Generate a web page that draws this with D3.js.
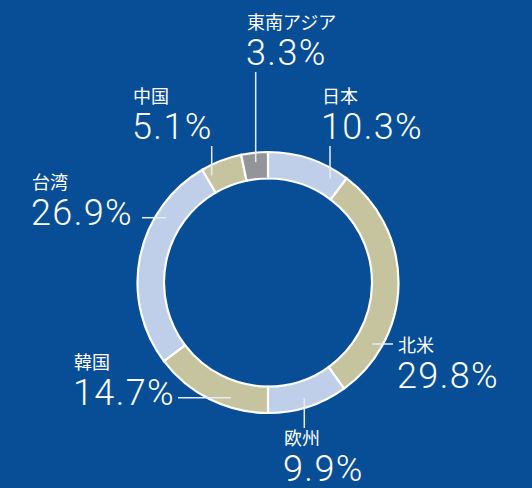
<!DOCTYPE html>
<html>
<head>
<meta charset="utf-8">
<script src="https://cdn.jsdelivr.net/npm/d3@7"></script>
<style>
  html, body { margin: 0; padding: 0; background: #084e97; }
  svg { display: block; }
</style>
</head>
<body>
<svg id="chart" width="532" height="488"></svg>
<script>
// ---- data ----
const categories = ["日本", "北米", "欧州", "韓国", "台湾", "中国", "東南アジア"];
const values = [10.3, 29.8, 9.9, 14.7, 26.9, 5.1, 3.3];
const valueLabels = ["10.3%", "29.8%", "9.9%", "14.7%", "26.9%", "5.1%", "3.3%"];

// ---- styles / layout ----
const segColors = ["#bfcfe9", "#c6c49f", "#bfcfe9", "#c6c49f", "#bfcfe9", "#c6c49f", "#939599"];
const W = 532, H = 488;
const cx = 268, cy = 282.5;
const outerR = 130.5, innerR = 104, leaderR = 121;

// label anchor: text x, value baseline, leader start point & direction
const labelLayout = [
  { tx: 322, ty: 139, lx: 330,   ly: 146,  dir: "v" },  // 日本
  { tx: 398, ty: 388, lx: 393,   ly: 344,  dir: "h" },  // 北米
  { tx: 284, ty: 481, lx: 304.3, ly: 428,  dir: "v" },  // 欧州
  { tx: 74,  ty: 405, lx: 178,   ly: 397.7, dir: "h" }, // 韓国
  { tx: 32,  ty: 225, lx: 142,   ly: 217.7, dir: "h" }, // 台湾
  { tx: 133, ty: 139, lx: 211.7, ly: 146,  dir: "v" },  // 中国
  { tx: 247, ty: 65,  lx: 255.7, ly: 72,   dir: "v" }   // 東南アジア
];

const svg = d3.select("#chart");
svg.append("rect").attr("width", W).attr("height", H).attr("fill", "#084e97");

const pie = d3.pie().sort(null).value(d => d.value);
const arc = d3.arc().innerRadius(innerR).outerRadius(outerR);
const data = categories.map((c, i) => ({ name: c, value: values[i], label: valueLabels[i], color: segColors[i], layout: labelLayout[i] }));

const g = svg.append("g").attr("transform", `translate(${cx},${cy})`);
g.selectAll("path.seg")
  .data(pie(data))
  .join("path")
  .attr("class", "seg")
  .attr("d", arc)
  .attr("fill", d => d.data.color)
  .attr("stroke", "#ffffff")
  .attr("stroke-width", 2.2)
  .attr("stroke-linejoin", "miter");

// leader lines: run from start point until reaching the mid-ring circle
function leaderEnd(L) {
  if (L.dir === "v") {
    const dx = L.lx - cx;
    const dy = Math.sqrt(leaderR * leaderR - dx * dx);
    return [L.lx, L.ly < cy ? cy - dy : cy + dy];
  } else {
    const dy = L.ly - cy;
    const dx = Math.sqrt(leaderR * leaderR - dy * dy);
    return [L.lx < cx ? cx - dx : cx + dx, L.ly];
  }
}

const labels = svg.append("g");
data.forEach(d => {
  const L = d.layout;
  const e = leaderEnd(L);
  labels.append("line")
    .attr("x1", L.lx).attr("y1", L.ly)
    .attr("x2", e[0]).attr("y2", e[1])
    .attr("stroke", "#e8ecf4")
    .attr("stroke-width", 1.5);
  labels.append("text")
    .attr("x", L.tx).attr("y", L.ty - 36)
    .attr("fill", "#ffffff")
    .attr("font-family", "'Noto Sans CJK JP', 'Noto Sans', sans-serif")
    .attr("font-size", 18)
    .text(d.name);
  labels.append("text")
    .attr("x", L.tx - 1).attr("y", L.ty)
    .attr("fill", "#ffffff")
    .attr("font-family", "Roboto, 'Liberation Sans', sans-serif")
    .attr("font-weight", 300)
    .attr("font-size", 36)
    .attr("letter-spacing", 1.4)
    .text(d.label);
});
</script>
</body>
</html>
